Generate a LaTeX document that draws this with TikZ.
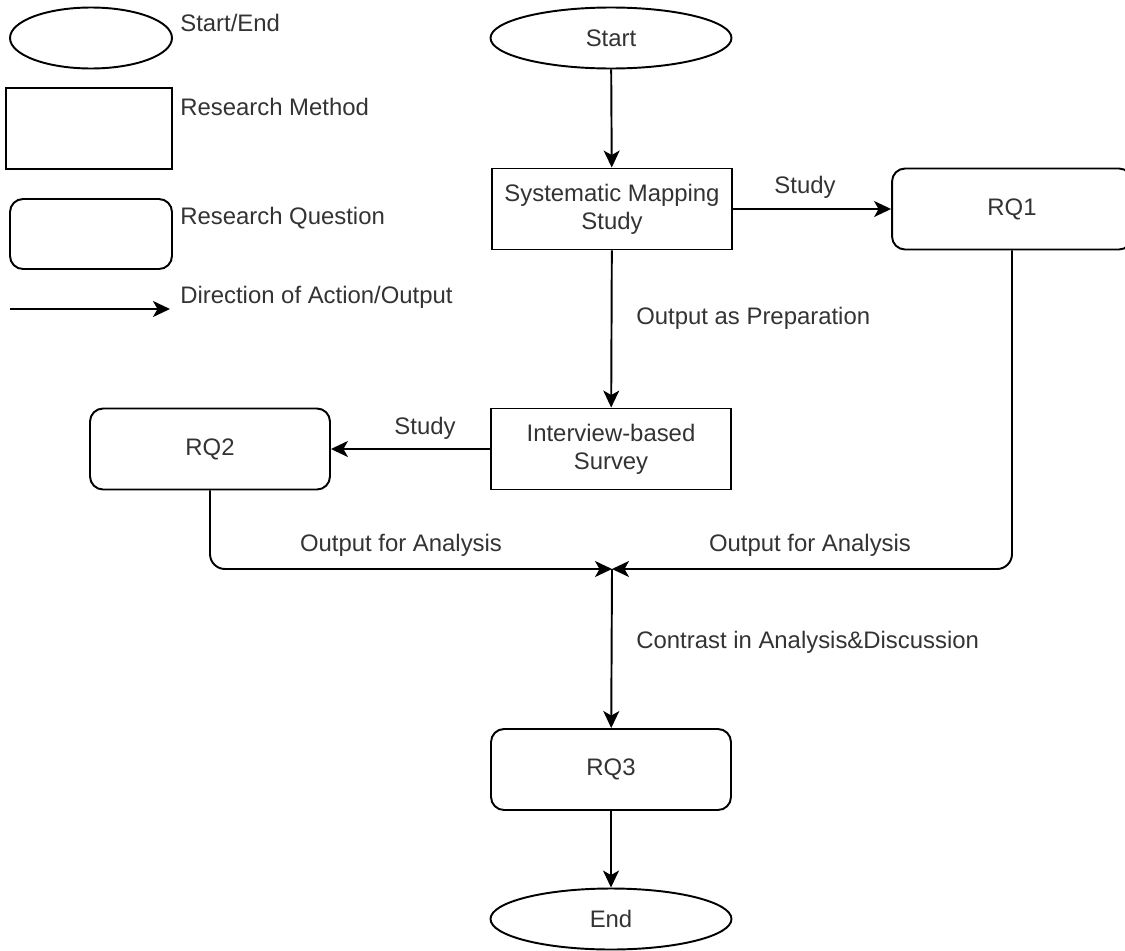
\documentclass[tikz,border=0pt]{standalone}
\usepackage{fontspec}
\setmainfont{Liberation Sans}
\usepackage{xcolor}
\usepackage{tikz}
\usetikzlibrary{shapes.geometric, arrows.meta, positioning}
\definecolor{inkgray}{HTML}{333333}

\tikzset{
  terminal/.style={draw=black, line width=1.1pt, ellipse, inner sep=0pt, minimum width=4.82cm, minimum height=1.22cm},
  methodbox/.style={draw=black, line width=1.1pt, rectangle, inner sep=2pt, minimum width=4.8cm, minimum height=1.62cm, align=center},
  questionbox/.style={draw=black, line width=1.1pt, rectangle, rounded corners=0.26cm, inner sep=2pt, minimum width=4.8cm, minimum height=1.62cm, align=center},
  flow/.style={draw=black, line width=1.1pt, -{Stealth[length=0.34cm, width=0.32cm, inset=0.09cm]}},
  lbl/.style={inkgray, font=\fontsize{13.6}{16}\selectfont, inner sep=0pt}
}

\begin{document}
\begin{tikzpicture}[x=0.02cm, y=-0.02cm, every node/.style={font=\fontsize{13.6}{16}\selectfont, text=inkgray}]
  \useasboundingbox (0,0) rectangle (1125,950);

  % Legend on the left
  \node[terminal, minimum width=3.24cm] (legTerminal) at (91,38) {};
  \node[methodbox, minimum width=3.32cm] (legMethod) at (89,128.5) {};
  \node[questionbox, minimum width=3.24cm, minimum height=1.4cm] (legQuestion) at (91,234) {};
  \coordinate (legFrom) at (10,309);
  \coordinate (legTo) at (170,309);
  \draw[flow] (legFrom) -- (legTo);
  \node[lbl, anchor=west] (legTerminalText) at (180,23) {Start/End};
  \node[lbl, anchor=west] (legMethodText) at (180,107) {Research Method};
  \node[lbl, anchor=west] (legQuestionText) at (180,218) {Research Question};
  \node[lbl, anchor=west] (legFlowText) at (180,297) {Direction of Action/Output};

  % Main flow
  \node[terminal] (start) at (611,38) {Start};
  \node[methodbox] (sms) at (612,209) {Systematic Mapping\\Study};
  \node[questionbox] (rq1) at (1012,209) {RQ1};
  \node[methodbox] (survey) at (611,449) {Interview-based\\Survey};
  \node[questionbox] (rq2) at (210,449) {RQ2};
  \coordinate (merge) at (612,569);
  \node[questionbox] (rq3) at (611,769.5) {RQ3};
  \node[terminal] (finish) at (611,919) {End};

  % Connectors
  \draw[flow] (start) -- (sms);
  \draw[flow] (sms) -- (rq1);
  \draw[flow] (sms) -- (survey);
  \draw[flow] (survey) -- (rq2);
  \draw[flow, rounded corners=0.3cm] (rq1.south) |- (merge);
  \draw[flow, rounded corners=0.3cm] (rq2.south) |- (merge);
  \draw[flow] (merge) -- (rq3);
  \draw[flow] (rq3) -- (finish);

  % Connector labels
  \node[lbl] (studyA) at (805,187) {Study};
  \node[lbl, anchor=west] (prep) at (636,318) {Output as Preparation};
  \node[lbl] (studyB) at (425,428) {Study};
  \node[lbl] (outLeft) at (401,545) {Output for Analysis};
  \node[lbl] (outRight) at (810,545) {Output for Analysis};
  \node[lbl, anchor=west] (contrast) at (636,642) {Contrast in Analysis\&Discussion};
\end{tikzpicture}
\end{document}
